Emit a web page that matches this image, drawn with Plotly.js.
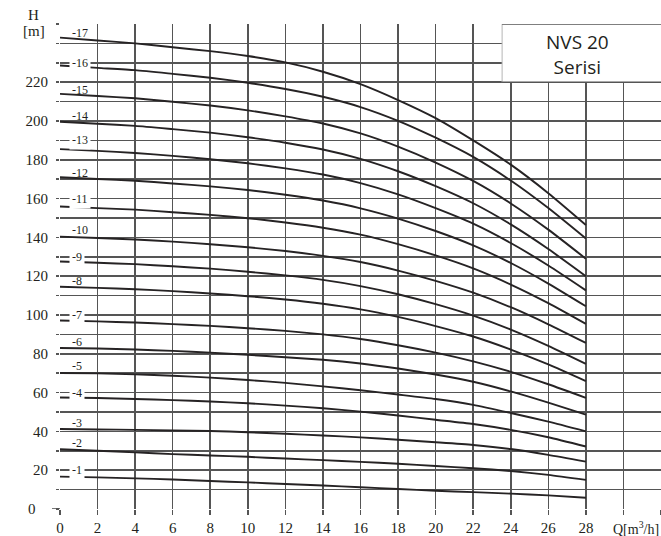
<!DOCTYPE html>
<html>
<head>
<meta charset="utf-8">
<script src="https://cdn.plot.ly/plotly-3.0.1.min.js"></script>
<style>html,body{margin:0;padding:0;background:#fff;}#chart{width:661px;height:536px;}</style>
</head>
<body>
<div id="chart"></div>
<script>
// Flow Q [m3/h]
const flow = [0, 2, 4, 6, 8, 10, 12, 14, 16, 18, 20, 22, 24, 26, 28];
// Head H [m] per number of stages
const h1  = [16.7, 16.3, 15.8, 15.2, 14.4, 13.7, 12.9, 12.1, 11.2, 10.3, 9.4, 8.7, 7.9, 7.0, 5.8];
const h2  = [30.8, 30.0, 29.2, 28.3, 27.6, 26.9, 26.0, 25.2, 24.3, 23.3, 22.2, 21.0, 19.6, 17.6, 15.0];
const h3  = [41.2, 41.0, 40.8, 40.5, 40.2, 39.6, 38.8, 37.9, 36.9, 35.7, 34.4, 33.0, 30.9, 27.9, 24.4];
const h4  = [57.5, 57.2, 56.7, 56.1, 55.4, 54.5, 53.3, 51.9, 50.2, 48.2, 46.0, 43.8, 40.8, 37.0, 32.2];
const h5  = [70.1, 69.9, 69.4, 68.7, 67.7, 66.5, 65.0, 63.2, 61.2, 59.0, 56.7, 53.7, 49.5, 45.0, 40.0];
const h6  = [83.0, 82.7, 82.2, 81.5, 80.6, 79.5, 78.2, 76.9, 75.0, 72.4, 69.3, 65.6, 60.6, 54.8, 48.6];
const h7  = [97.2, 96.7, 96.1, 95.3, 94.4, 93.2, 91.8, 90.0, 87.6, 84.4, 80.6, 76.1, 70.7, 64.3, 57.3];
const h8  = [114.6, 114.0, 113.3, 112.3, 111.1, 109.7, 108.0, 105.8, 102.9, 99.0, 94.3, 88.9, 82.2, 74.5, 65.9];
const h9  = [127.6, 126.9, 126.2, 125.1, 123.9, 122.3, 120.4, 118.1, 114.9, 110.7, 105.6, 99.7, 92.5, 84.1, 74.8];
const h10 = [140.4, 139.7, 138.9, 137.8, 136.5, 134.9, 133.0, 130.5, 127.3, 122.9, 117.6, 111.5, 104.0, 95.2, 85.6];
const h11 = [155.9, 155.1, 154.3, 153.0, 151.6, 149.9, 147.7, 145.0, 141.4, 136.5, 130.7, 124.0, 115.7, 106.1, 95.4];
const h12 = [171.0, 170.1, 169.2, 167.8, 166.3, 164.4, 162.0, 159.0, 155.0, 149.7, 143.3, 135.9, 126.8, 116.2, 104.5];
const h13 = [185.5, 184.6, 183.5, 182.0, 180.3, 178.2, 175.6, 172.4, 168.0, 162.2, 155.1, 147.1, 137.1, 125.5, 112.7];
const h14 = [199.6, 198.6, 197.5, 195.8, 194.0, 191.6, 188.8, 185.3, 180.5, 174.1, 166.4, 157.6, 146.7, 134.0, 120.0];
const h15 = [214.0, 212.9, 211.7, 209.9, 208.0, 205.5, 202.4, 198.7, 193.6, 186.8, 178.6, 169.1, 157.5, 144.0, 129.0];
const h16 = [228.6, 227.4, 226.2, 224.3, 222.3, 219.7, 216.5, 212.5, 207.2, 200.1, 191.4, 181.5, 169.3, 155.1, 139.4];
const h17 = [243.0, 241.5, 240.0, 238.0, 236.0, 233.5, 230.2, 225.4, 219.0, 210.8, 201.5, 190.0, 177.5, 162.8, 146.4];

const curveLabels = ['-1','-2','-3','-4','-5','-6','-7','-8','-9','-10','-11','-12','-13','-14','-15','-16','-17'];
const labelHead = [20, 34, 44.3, 60, 73.7, 86, 100, 117.5, 130, 143.8, 160, 173.2, 190, 202.6, 216, 230, 245.4];
const labelOnGrid = [true,false,false,true,false,false,true,false,true,false,true,false,true,false,false,true,false];

const xTickVals = [0,2,4,6,8,10,12,14,16,18,20,22,24,26,28];
const xTickText = ['0','2','4','6','8','10','12','14','16','18','20','22','24','26','28'];
const yTickVals = [20,40,60,80,100,120,140,160,180,200,220];
const yTickText = ['20','40','60','80','100','120','140','160','180','200','220'];

const heads = [h1,h2,h3,h4,h5,h6,h7,h8,h9,h10,h11,h12,h13,h14,h15,h16,h17];
const traces = heads.map((h, i) => ({
  x: flow, y: h, type: 'scatter', mode: 'lines',
  line: {color: '#262324', width: 1.9, shape: 'spline', smoothing: 0.6},
  hoverinfo: 'skip', showlegend: false, name: curveLabels[i]
}));

const W = 601, H = 485;
const serif = '"Liberation Serif", "Times New Roman", serif';
const textCol = '#231f20';
const annotations = curveLabels.map((t, i) => ({
  text: t, x: 0.48, y: labelHead[i], xref: 'x', yref: 'y',
  xanchor: 'left', yanchor: 'middle', showarrow: false,
  font: {family: serif, size: 12, color: textCol},
  bgcolor: labelOnGrid[i] ? '#ffffff' : 'rgba(0,0,0,0)', borderpad: 2
}));
annotations.push(
  {text: 'H', xref: 'paper', yref: 'paper', x: (33-60)/W, y: (509-15)/H, xanchor: 'center', yanchor: 'middle', showarrow: false, font: {family: serif, size: 15, color: textCol}},
  {text: '[m]', xref: 'paper', yref: 'paper', x: (34-60)/W, y: (509-31)/H, xanchor: 'center', yanchor: 'middle', showarrow: false, font: {family: serif, size: 15, color: textCol}},
  {text: '0', xref: 'paper', yref: 'y', x: (38-60)/W, y: 0, xanchor: 'right', yanchor: 'middle', showarrow: false, font: {family: serif, size: 15, color: textCol}},
  {text: 'Q[m<sup>3</sup>/h]', xref: 'paper', yref: 'paper', x: 1, y: (509-528)/H, xanchor: 'right', yanchor: 'middle', showarrow: false, font: {family: serif, size: 14, color: textCol}},
  {text: 'NVS 20<br>Serisi', xref: 'x', yref: 'y', x: 27.53, y: 234.3, xanchor: 'center', yanchor: 'middle', showarrow: false, font: {family: '"Open Sans", sans-serif', size: 19, color: textCol}}
);

const gridCol = '#555555';
const shapes = [
  {type: 'rect', xref: 'x', yref: 'y', x0: 23.54, x1: 32.5, y0: 220, y1: 251, fillcolor: '#ffffff', line: {width: 0}, layer: 'above'},
  {type: 'line', xref: 'x', yref: 'y', x0: 23.54, x1: 23.54, y0: 220, y1: 250, line: {color: '#b5b5b5', width: 1}, layer: 'above'},
  {type: 'line', xref: 'x', yref: 'y', x0: 23.54, x1: 32, y0: 220, y1: 220, line: {color: gridCol, width: 1.6}, layer: 'above'},
  {type: 'line', xref: 'x', yref: 'y', x0: 23.54, x1: 32, y0: 250, y1: 250, line: {color: gridCol, width: 1.6}, layer: 'above'},
  {type: 'line', xref: 'paper', yref: 'y', x0: (52-60)/W, x1: 0, y0: 0, y1: 0, line: {color: gridCol, width: 1.6}, layer: 'above'}
];

const layout = {
  width: 661, height: 536,
  margin: {l: 60, r: 0, t: 24, b: 27, pad: 0},
  paper_bgcolor: '#ffffff', plot_bgcolor: '#ffffff',
  showlegend: false,
  font: {family: serif, color: textCol},
  xaxis: {
    range: [0, 32], tickmode: 'array', tickvals: xTickVals, ticktext: xTickText,
    showgrid: true, gridcolor: gridCol, gridwidth: 1.6,
    zeroline: false, showline: false,
    ticks: 'outside', ticklen: 5, tickwidth: 1.6, tickcolor: gridCol,
    tickfont: {family: serif, size: 15, color: textCol}, fixedrange: true,
    minor: {tickmode: 'linear', tick0: 0, dtick: 2, showgrid: true, gridcolor: gridCol, gridwidth: 1.6, ticks: 'outside', ticklen: 5, tickwidth: 1.6, tickcolor: gridCol}
  },
  yaxis: {
    range: [0, 250], tickmode: 'array', tickvals: yTickVals, ticktext: yTickText,
    showgrid: true, gridcolor: gridCol, gridwidth: 1.6,
    zeroline: false, showline: false,
    ticks: 'outside', ticklen: 3, tickwidth: 1.6, tickcolor: gridCol,
    ticklabelstandoff: 5,
    tickfont: {family: serif, size: 15, color: textCol}, fixedrange: true,
    minor: {tickmode: 'linear', tick0: 0, dtick: 10, showgrid: true, gridcolor: gridCol, gridwidth: 1.6, ticks: 'outside', ticklen: 3, tickwidth: 1.6, tickcolor: gridCol}
  },
  annotations: annotations,
  shapes: shapes
};

Plotly.newPlot('chart', traces, layout, {displayModeBar: false, staticPlot: true});
</script>
</body>
</html>
